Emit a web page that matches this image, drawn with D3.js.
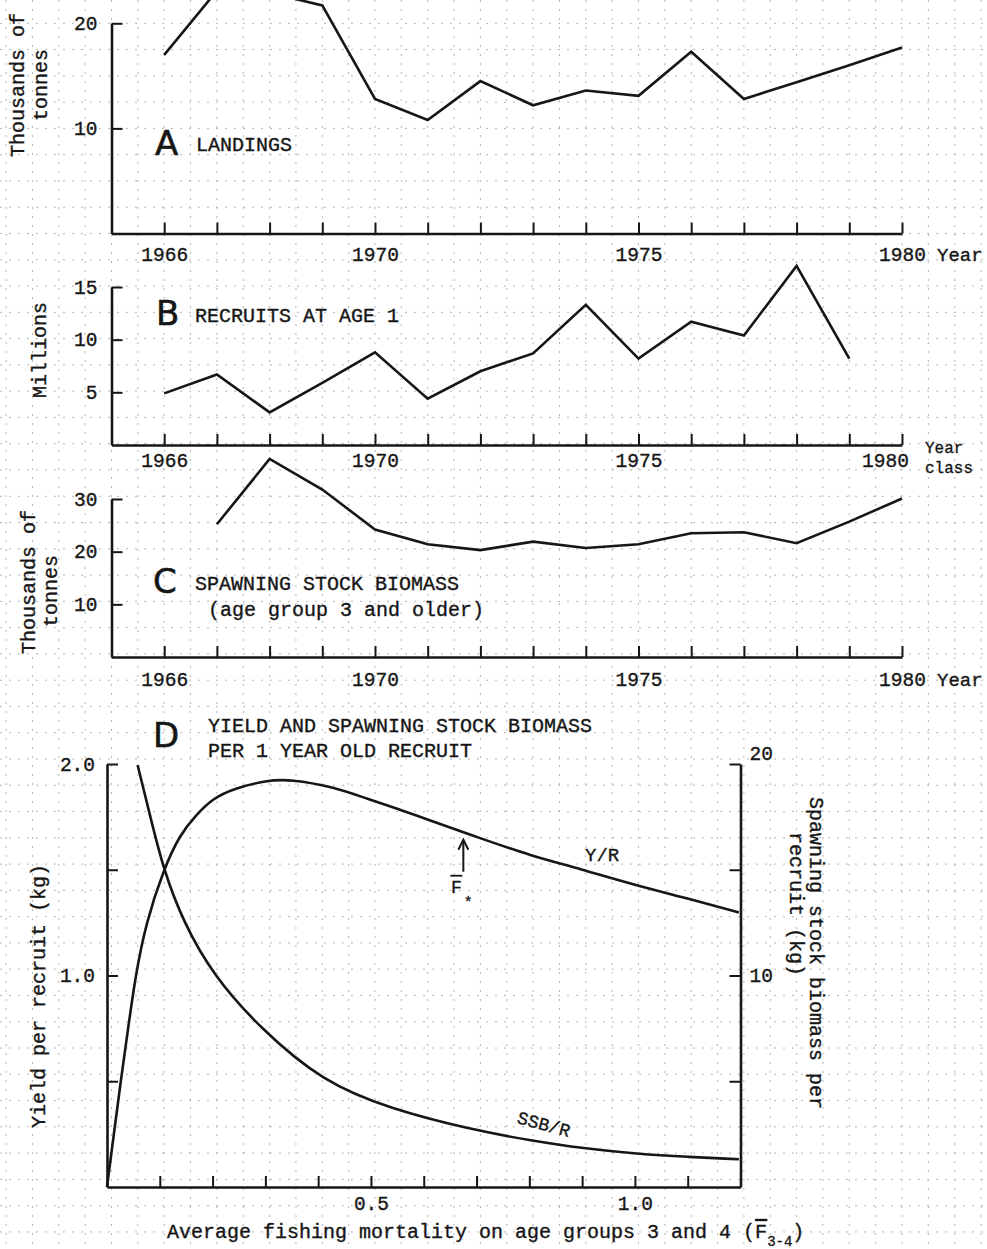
<!DOCTYPE html>
<html>
<head>
<meta charset="utf-8">
<script src="https://cdn.jsdelivr.net/npm/d3@7"></script>
<style>
  body { margin: 0; background: #fff; }
  text { font-family: "Liberation Mono", "Courier New", monospace; fill: #161616; stroke: #161616; stroke-width: 0.35px; }
  .big { font-family: "DejaVu Sans", "Liberation Sans", sans-serif; stroke-width: 0.6px; }
</style>
</head>
<body>
<svg id="chart"></svg>
<script>
// ---- data ----
const years = [1966, 1967, 1968, 1969, 1970, 1971, 1972, 1973, 1974, 1975, 1976, 1977, 1978, 1979, 1980];
const yearLabels = [1966, 1970, 1975, 1980];

// A: landings, thousands of tonnes
const landings = [17.0, 23.1, 22.9, 21.7, 12.8, 10.8, 14.5, 12.2, 13.6, 13.1, 17.3, 12.8, 14.4, 16.0, 17.7];

// B: recruits at age 1, millions (by year class)
const recruitYears = [1966, 1967, 1968, 1969, 1970, 1971, 1972, 1973, 1974, 1975, 1976, 1977, 1978, 1979];
const recruits = [4.9, 6.7, 3.1, 5.9, 8.8, 4.4, 7.0, 8.7, 13.3, 8.2, 11.7, 10.4, 17.0, 8.2];

// C: spawning stock biomass, thousands of tonnes
const ssbYears = [1967, 1968, 1969, 1970, 1971, 1972, 1973, 1974, 1975, 1976, 1977, 1978, 1979, 1980];
const ssb = [25.2, 37.6, 31.8, 24.2, 21.4, 20.3, 21.9, 20.7, 21.4, 23.5, 23.7, 21.6, 25.7, 30.1];

// D: yield per recruit (kg) against average F
const fYield = [0, 0.013, 0.026, 0.04, 0.054, 0.074, 0.107, 0.138, 0.168, 0.2, 0.239, 0.303, 0.347, 0.429, 0.492, 0.555, 0.603, 0.707, 0.802, 0.897, 0.992, 1.105, 1.197];
const yieldPerRecruit = [0, 0.25, 0.5, 0.75, 1.0, 1.25, 1.5, 1.666, 1.757, 1.836, 1.883, 1.923, 1.928, 1.892, 1.836, 1.785, 1.741, 1.649, 1.567, 1.504, 1.433, 1.361, 1.298];

// D: spawning stock biomass per recruit (kg, right axis)
const fSsb = [0.058, 0.0815, 0.107, 0.145, 0.2015, 0.29, 0.41, 0.536, 0.688, 0.802, 0.903, 1.004, 1.099, 1.197];
const ssbPerRecruit = [19.95, 17.57, 15.0, 12.5, 10.0, 7.5, 4.95, 3.7, 2.72, 2.2, 1.82, 1.57, 1.42, 1.31];

const fTicks = [0.1, 0.2, 0.3, 0.4, 0.5, 0.6, 0.7, 0.8, 0.9, 1.0, 1.1, 1.2];
const fLabels = [0.5, 1.0];
const fStar = 0.675, fStarYield = 1.675;

const ink = "#161616";
const W = 987, H = 1249;

const svg = d3.select("#chart").attr("width", W).attr("height", H);
svg.append("rect").attr("width", W).attr("height", H).attr("fill", "#fff");

const x = d3.scaleLinear().domain([1965, 1980]).range([111.5, 902]);
const yA = d3.scaleLinear().domain([0, 20]).range([233.5, 23.3]);
const yB = d3.scaleLinear().domain([0, 15]).range([445, 287]);
const yC = d3.scaleLinear().domain([0, 30]).range([657, 499]);
const xD = d3.scaleLinear().domain([0, 1.2]).range([107, 740.5]);
const yL = d3.scaleLinear().domain([0, 2]).range([1187, 764]);
const yR = d3.scaleLinear().domain([0, 20]).range([1187, 764]);

// faint graph-paper grid behind everything
const gx = (x(1966) - x(1965)) / 2;
const gy = yA(0) - yA(2.5);
const grid = svg.append("g")
    .attr("stroke", "#b4b4b4")
    .attr("stroke-width", 1)
    .attr("stroke-dasharray", "2,7");
for (let gxPos = x(1965) - 4 * gx; gxPos < W; gxPos += gx) {
    grid.append("line").attr("x1", gxPos).attr("x2", gxPos).attr("y1", 0).attr("y2", H);
}
for (let gyPos = yA(20) % gy; gyPos < H; gyPos += gy) {
    grid.append("line").attr("x1", 0).attr("x2", W).attr("y1", gyPos).attr("y2", gyPos);
}

function styleAxis(g, size) {
    g.attr("font-size", null).attr("font-family", null);
    g.select(".domain").attr("stroke", ink).attr("stroke-width", 2.6);
    g.selectAll(".tick line").attr("stroke", ink).attr("stroke-width", 2);
    g.selectAll(".tick text").style("font-size", size + "px").attr("fill", ink);
}

function leftTitle(lines, cy, size) {
    const t = svg.append("text")
        .attr("transform", `translate(0,${cy}) rotate(-90)`)
        .attr("text-anchor", "middle")
        .style("font-size", size + "px");
    lines.forEach(l => {
        t.append("tspan").attr("x", 0).attr("y", l.bx).text(l.text);
    });
}

function yearPanel(p) {
    const g = svg.append("g");
    const xAx = g.append("g")
        .attr("transform", `translate(0,${p.y(0)})`)
        .call(d3.axisBottom(x).tickValues(years).tickSizeInner(-11).tickSizeOuter(0)
            .tickPadding(p.xPad).tickFormat(d => yearLabels.includes(d) ? d : ""));
    styleAxis(xAx, 19.5);

    const yAx = g.append("g")
        .attr("transform", `translate(${x(1965)},0)`)
        .call(d3.axisLeft(p.y).tickValues(p.yTicks).tickSizeInner(-11).tickSizeOuter(0).tickPadding(14));
    styleAxis(yAx, 19.5);

    const line = d3.line().x(d => x(d[0])).y(d => p.y(d[1]));
    g.append("path")
        .datum(p.xs.map((d, i) => [d, p.vs[i]]))
        .attr("d", line)
        .attr("fill", "none")
        .attr("stroke", ink)
        .attr("stroke-width", 2.6)
        .attr("stroke-linejoin", "miter");

    g.append("text").attr("class", "big")
        .attr("x", p.letter[0]).attr("y", p.letter[1])
        .style("font-size", "34px")
        .text(p.letterText);
    p.titles.forEach(tl => {
        g.append("text").attr("x", tl[0]).attr("y", tl[1]).style("font-size", "20px").text(tl[2]);
    });
    return xAx;
}

// ---- A: landings ----
yearPanel({
    y: yA, yTicks: [10, 20], xPad: 14, xs: years, vs: landings,
    letter: [155, 155], letterText: "A",
    titles: [[196, 151, "LANDINGS"]]
});
leftTitle([{ text: "Thousands of", bx: 24 }, { text: "tonnes", bx: 47 }], 85, 20);
svg.append("text").attr("x", 937).attr("y", 261).style("font-size", "19px").text("Year");

// ---- B: recruits ----
const xAxB = yearPanel({
    y: yB, yTicks: [5, 10, 15], xPad: 8.5, xs: recruitYears, vs: recruits,
    letter: [156, 325], letterText: "B",
    titles: [[195, 322, "RECRUITS AT AGE 1"]]
});
xAxB.selectAll(".tick text").filter(d => d === 1980).attr("dx", -17);
leftTitle([{ text: "Millions", bx: 46 }], 350, 20);
svg.append("text").attr("x", 925).attr("y", 453).style("font-size", "16px").text("Year");
svg.append("text").attr("x", 925).attr("y", 473).style("font-size", "16px").text("class");

// ---- C: spawning stock biomass ----
yearPanel({
    y: yC, yTicks: [10, 20, 30], xPad: 15.5, xs: ssbYears, vs: ssb,
    letter: [153, 593], letterText: "C",
    titles: [[195, 590, "SPAWNING STOCK BIOMASS"], [208, 616, "(age group 3 and older)"]]
});
leftTitle([{ text: "Thousands of", bx: 35 }], 582, 20);
leftTitle([{ text: "tonnes", bx: 57 }], 591, 20);
svg.append("text").attr("x", 937).attr("y", 686).style("font-size", "19px").text("Year");

// ---- D: yield and SSB per recruit ----
const gD = svg.append("g");
const xAxD = gD.append("g")
    .attr("transform", `translate(0,${yL(0)})`)
    .call(d3.axisBottom(xD).tickValues(fTicks).tickSizeInner(-11).tickSizeOuter(0).tickPadding(9.5)
        .tickFormat(d => fLabels.some(v => Math.abs(v - d) < 1e-9) ? d3.format(".1f")(d) : ""));
styleAxis(xAxD, 19.5);

const yAxL = gD.append("g")
    .attr("transform", `translate(${xD(0)},0)`)
    .call(d3.axisLeft(yL).tickValues([0.5, 1.0, 1.5, 2.0]).tickSizeInner(-11).tickSizeOuter(0).tickPadding(12)
        .tickFormat(d => (d === 1 || d === 2) ? d3.format(".1f")(d) : ""));
styleAxis(yAxL, 19.5);

const yAxR = gD.append("g")
    .attr("transform", `translate(${xD(1.2)},0)`)
    .call(d3.axisRight(yR).tickValues([5, 10, 15, 20]).tickSizeInner(-11).tickSizeOuter(0).tickPadding(9)
        .tickFormat(d => (d === 10 || d === 20) ? d : ""));
styleAxis(yAxR, 19.5);
yAxR.selectAll(".tick text").filter(d => d === 20).attr("dy", "-0.25em");

gD.append("path")
    .datum(fYield.map((f, i) => [f, yieldPerRecruit[i]]))
    .attr("d", d3.line().curve(d3.curveBasis).x(d => xD(d[0])).y(d => yL(d[1])))
    .attr("fill", "none").attr("stroke", ink).attr("stroke-width", 2.6);

gD.append("path")
    .datum(fSsb.map((f, i) => [f, ssbPerRecruit[i]]))
    .attr("d", d3.line().curve(d3.curveBasis).x(d => xD(d[0])).y(d => yR(d[1])))
    .attr("fill", "none").attr("stroke", ink).attr("stroke-width", 2.6);

// arrow at F*
const ax = xD(fStar), ay = yL(fStarYield) + 7;
gD.append("line").attr("x1", ax).attr("x2", ax).attr("y1", ay).attr("y2", ay + 32)
    .attr("stroke", ink).attr("stroke-width", 2);
gD.append("path").attr("d", `M${ax - 5},${ay + 10} L${ax},${ay} L${ax + 5},${ay + 10}`)
    .attr("fill", "none").attr("stroke", ink).attr("stroke-width", 2);
gD.append("line").attr("x1", ax - 13).attr("x2", ax - 1).attr("y1", ay + 36).attr("y2", ay + 36)
    .attr("stroke", ink).attr("stroke-width", 1.8);
gD.append("text").attr("x", ax - 7).attr("y", ay + 53).attr("text-anchor", "middle")
    .style("font-size", "18px").text("F");
gD.append("text").attr("x", ax + 5).attr("y", ay + 67).attr("text-anchor", "middle")
    .style("font-size", "15px").text("*");

gD.append("text").attr("x", 585).attr("y", 861).style("font-size", "19px").text("Y/R");
gD.append("text")
    .attr("transform", "translate(544,1124) rotate(15)")
    .attr("text-anchor", "middle").attr("dy", "0.35em")
    .style("font-size", "18px").text("SSB/R");

gD.append("text").attr("class", "big").attr("x", 153).attr("y", 747).style("font-size", "34px").text("D");
gD.append("text").attr("x", 208).attr("y", 732).style("font-size", "20px").text("YIELD AND SPAWNING STOCK BIOMASS");
gD.append("text").attr("x", 208).attr("y", 757).style("font-size", "20px").text("PER 1 YEAR OLD RECRUIT");

leftTitle([{ text: "Yield per recruit (kg)", bx: 45 }], 996, 20);

const rt = gD.append("text")
    .attr("transform", "rotate(90)")
    .style("font-size", "20px");
rt.append("tspan").attr("x", 797).attr("y", -810).text("Spawning stock biomass per");
rt.append("tspan").attr("x", 832).attr("y", -790).text("recruit (kg)");

const xt = gD.append("text").attr("x", 167).attr("y", 1238).style("font-size", "20px");
xt.append("tspan").text("Average fishing mortality on age groups 3 and 4 (");
xt.append("tspan").text("F").style("text-decoration", "overline");
xt.append("tspan").attr("dy", 8).style("font-size", "14px").text("3-4");
xt.append("tspan").attr("dy", -8).text(")");
</script>
</body>
</html>
